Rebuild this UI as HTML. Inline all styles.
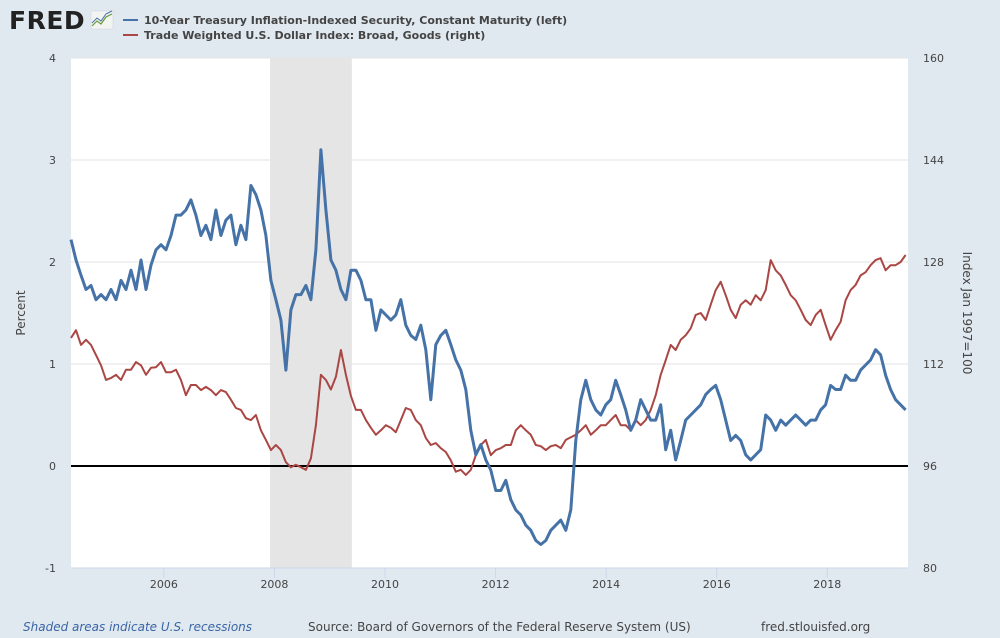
<!DOCTYPE html>
<html><head><meta charset="utf-8">
<style>
html,body{margin:0;padding:0;background:#e1e9f0;width:1000px;height:638px;overflow:hidden}
svg{display:block}
text{font-family:"DejaVu Sans","Liberation Sans",sans-serif}
</style></head>
<body>
<svg id="chart" width="1000" height="638" xmlns="http://www.w3.org/2000/svg">
  <rect x="0" y="0" width="1000" height="638" fill="#e1e9f0"/>
  <g>
    <text x="9" y="29" font-size="25" font-weight="bold" fill="#222" font-family="Liberation Sans, sans-serif" letter-spacing="0.5">FRED</text>
    <rect x="91" y="11" width="22" height="18" fill="#f2f4f2" stroke="#ccd" stroke-width="0.5"/>
    <polyline points="92,26 97,21 101,24 106,17 112,14" fill="none" stroke="#6a9a3a" stroke-width="1.2"/>
    <polyline points="92,23 97,18 101,21 106,14 112,11" fill="none" stroke="#4572a7" stroke-width="1"/>
  </g>
  <g>
    <g>
      <line x1="123" y1="20" x2="138" y2="20" stroke="#4572a7" stroke-width="2"/>
      <text x="144" y="24" font-size="11" font-weight="bold" fill="#444">10-Year Treasury Inflation-Indexed Security, Constant Maturity (left)</text>
    </g>
    <g>
      <line x1="123" y1="35" x2="138" y2="35" stroke="#aa4643" stroke-width="2"/>
      <text x="144" y="39" font-size="11" font-weight="bold" fill="#444">Trade Weighted U.S. Dollar Index: Broad, Goods (right)</text>
    </g>
  </g>
  <rect x="71" y="58" width="837" height="510" fill="#fff"/>
  <g id="grid"></g>
  <g id="recess"></g>
  <g id="series"></g>
  <g id="axes"></g>
  <text transform="translate(25,313) rotate(-90)" text-anchor="middle" font-size="12" fill="#444">Percent</text>
  <text transform="translate(963,313) rotate(90)" text-anchor="middle" font-size="12" fill="#444">Index Jan 1997=100</text>
  <text x="23" y="631" font-size="12" font-style="italic" fill="#3a65a5" font-family="DejaVu Sans Condensed, DejaVu Sans, sans-serif">Shaded areas indicate U.S. recessions</text>
  <text x="308" y="631" font-size="12" fill="#444" font-family="DejaVu Sans Condensed, DejaVu Sans, sans-serif">Source: Board of Governors of the Federal Reserve System (US)</text>
  <text x="761" y="631" font-size="12" fill="#444" font-family="DejaVu Sans Condensed, DejaVu Sans, sans-serif">fred.stlouisfed.org</text>
</svg>
<script>
const startYear = 2004.32;
const stepYears = 0.0904;
const leftTicks = [-1, 0, 1, 2, 3, 4];
const rightTicks = [80, 96, 112, 128, 144, 160];
const yearTicks = [2006, 2008, 2010, 2012, 2014, 2016, 2018];
const recessions = [[2007.92, 2009.4]];
const tipsValues = [2.22,2.02,1.87,1.73,1.77,1.63,1.68,1.63,1.73,1.63,1.82,1.73,1.92,1.73,2.02,1.73,1.97,2.12,2.17,2.12,2.26,2.46,2.46,2.51,2.61,2.46,2.26,2.36,2.22,2.51,2.26,2.41,2.46,2.17,2.36,2.22,2.75,2.66,2.51,2.26,1.82,1.63,1.43,0.94,1.53,1.68,1.68,1.77,1.63,2.12,3.10,2.51,2.02,1.92,1.73,1.63,1.92,1.92,1.82,1.63,1.63,1.33,1.53,1.48,1.43,1.48,1.63,1.38,1.28,1.24,1.38,1.14,0.65,1.19,1.28,1.33,1.19,1.04,0.94,0.75,0.35,0.11,0.21,0.06,-0.04,-0.24,-0.24,-0.14,-0.33,-0.43,-0.48,-0.58,-0.63,-0.73,-0.77,-0.73,-0.63,-0.58,-0.53,-0.63,-0.43,0.25,0.65,0.84,0.65,0.55,0.50,0.60,0.65,0.84,0.70,0.55,0.35,0.45,0.65,0.55,0.45,0.45,0.60,0.16,0.35,0.06,0.25,0.45,0.50,0.55,0.60,0.70,0.75,0.79,0.65,0.45,0.25,0.30,0.25,0.11,0.06,0.11,0.16,0.50,0.45,0.35,0.45,0.40,0.45,0.50,0.45,0.40,0.45,0.45,0.55,0.60,0.79,0.75,0.75,0.89,0.84,0.84,0.94,0.99,1.04,1.14,1.09,0.89,0.75,0.65,0.60,0.55];
const dollarValues = [116.1,117.3,115.0,115.8,115.0,113.4,111.8,109.5,109.8,110.3,109.5,111.1,111.1,112.3,111.8,110.3,111.4,111.5,112.3,110.7,110.7,111.1,109.5,107.1,108.7,108.7,107.9,108.4,107.9,107.1,107.9,107.6,106.4,105.1,104.8,103.5,103.2,104.0,101.6,100.1,98.5,99.3,98.5,96.6,95.8,96.2,95.8,95.4,97.2,102.4,110.3,109.5,108.0,110.0,114.2,110.3,107.0,104.8,104.8,103.2,102.0,100.9,101.6,102.4,102.0,101.3,103.2,105.1,104.8,103.2,102.4,100.4,99.3,99.6,98.8,98.2,96.9,95.1,95.4,94.6,95.4,97.7,99.3,100.1,97.7,98.5,98.8,99.3,99.3,101.6,102.4,101.6,100.9,99.3,99.1,98.5,99.1,99.3,98.8,100.1,100.5,100.9,101.6,102.4,100.9,101.6,102.4,102.4,103.2,104.0,102.4,102.4,101.6,103.2,102.4,103.2,104.8,107.1,110.3,112.6,115.0,114.2,115.8,116.5,117.6,119.7,120.0,118.9,121.3,123.6,124.9,122.8,120.5,119.2,121.3,122.0,121.3,122.8,122.0,123.6,128.3,126.7,125.9,124.4,122.8,122.0,120.5,118.9,118.1,119.7,120.5,118.1,115.8,117.3,118.6,122.0,123.6,124.4,125.9,126.4,127.5,128.3,128.6,126.7,127.5,127.5,128.0,129.1];

const X0 = 71, X1 = 908, Y0 = 58, Y1 = 568;
const xMin = 2004.32, xMax = 2019.46;
const xScale = t => X0 + (t - xMin) / (xMax - xMin) * (X1 - X0);
const yLeft = v => Y1 - (v - (-1)) / 5 * (Y1 - Y0);
const yRight = v => Y1 - (v - 80) / 80 * (Y1 - Y0);
const NS = 'http://www.w3.org/2000/svg';
function mk(tag, attrs, parent) {
  const e = document.createElementNS(NS, tag);
  for (const k in attrs) e.setAttribute(k, attrs[k]);
  parent.appendChild(e);
  return e;
}
const grid = document.getElementById('grid');
const axes = document.getElementById('axes');
leftTicks.forEach((v, i) => {
  const y = yLeft(v);
  if (v !== -1 && v !== 0) {
    const g = mk('line', {x1: X0, x2: X1, y1: y, y2: y, stroke: '#e3e3e3', 'stroke-width': 1}, grid);
    
    
  }
  const t = mk('text', {x: 56, y: y + 4, 'text-anchor': 'end', 'font-size': 11, fill: '#444'}, axes);
  t.textContent = v;
  
  
  const r = mk('text', {x: 923, y: y + 4, 'font-size': 11, fill: '#444'}, axes);
  r.textContent = rightTicks[i];
  
  
});
const rec = document.getElementById('recess');
recessions.forEach(r => {
  const e = mk('rect', {x: xScale(r[0]), y: Y0, width: xScale(r[1]) - xScale(r[0]), height: Y1 - Y0, fill: '#e5e5e5'}, rec);
  
  
});
const base = mk('line', {x1: X0, x2: X1, y1: Y1, y2: Y1, stroke: '#ccd6eb', 'stroke-width': 1}, axes);


yearTicks.forEach(yr => {
  const x = xScale(yr);
  const tk = mk('line', {x1: x, x2: x, y1: Y1, y2: Y1 + 10, stroke: '#ccd6eb', 'stroke-width': 1}, axes);
  
  
  const t = mk('text', {x: x, y: 588, 'text-anchor': 'middle', 'font-size': 11, fill: '#444', 'font-family': 'DejaVu Sans Condensed, DejaVu Sans, sans-serif'}, axes);
  t.textContent = yr;
  
  
});
const ser = document.getElementById('series');
const zero = mk('line', {x1: X0, x2: X1, y1: yLeft(0), y2: yLeft(0), stroke: '#000', 'stroke-width': 2}, ser);


function pts(vals, ys) { return vals.map((v, i) => xScale(startYear + i * stepYears).toFixed(1) + ',' + ys(v).toFixed(1)).join(' '); }
const red = mk('polyline', {points: pts(dollarValues, yRight), fill: 'none', stroke: '#aa4643', 'stroke-width': 2, 'stroke-linejoin': 'round'}, ser);


const blue = mk('polyline', {points: pts(tipsValues, yLeft), fill: 'none', stroke: '#4572a7', 'stroke-width': 3, 'stroke-linejoin': 'round'}, ser);


</script>
</body></html>
